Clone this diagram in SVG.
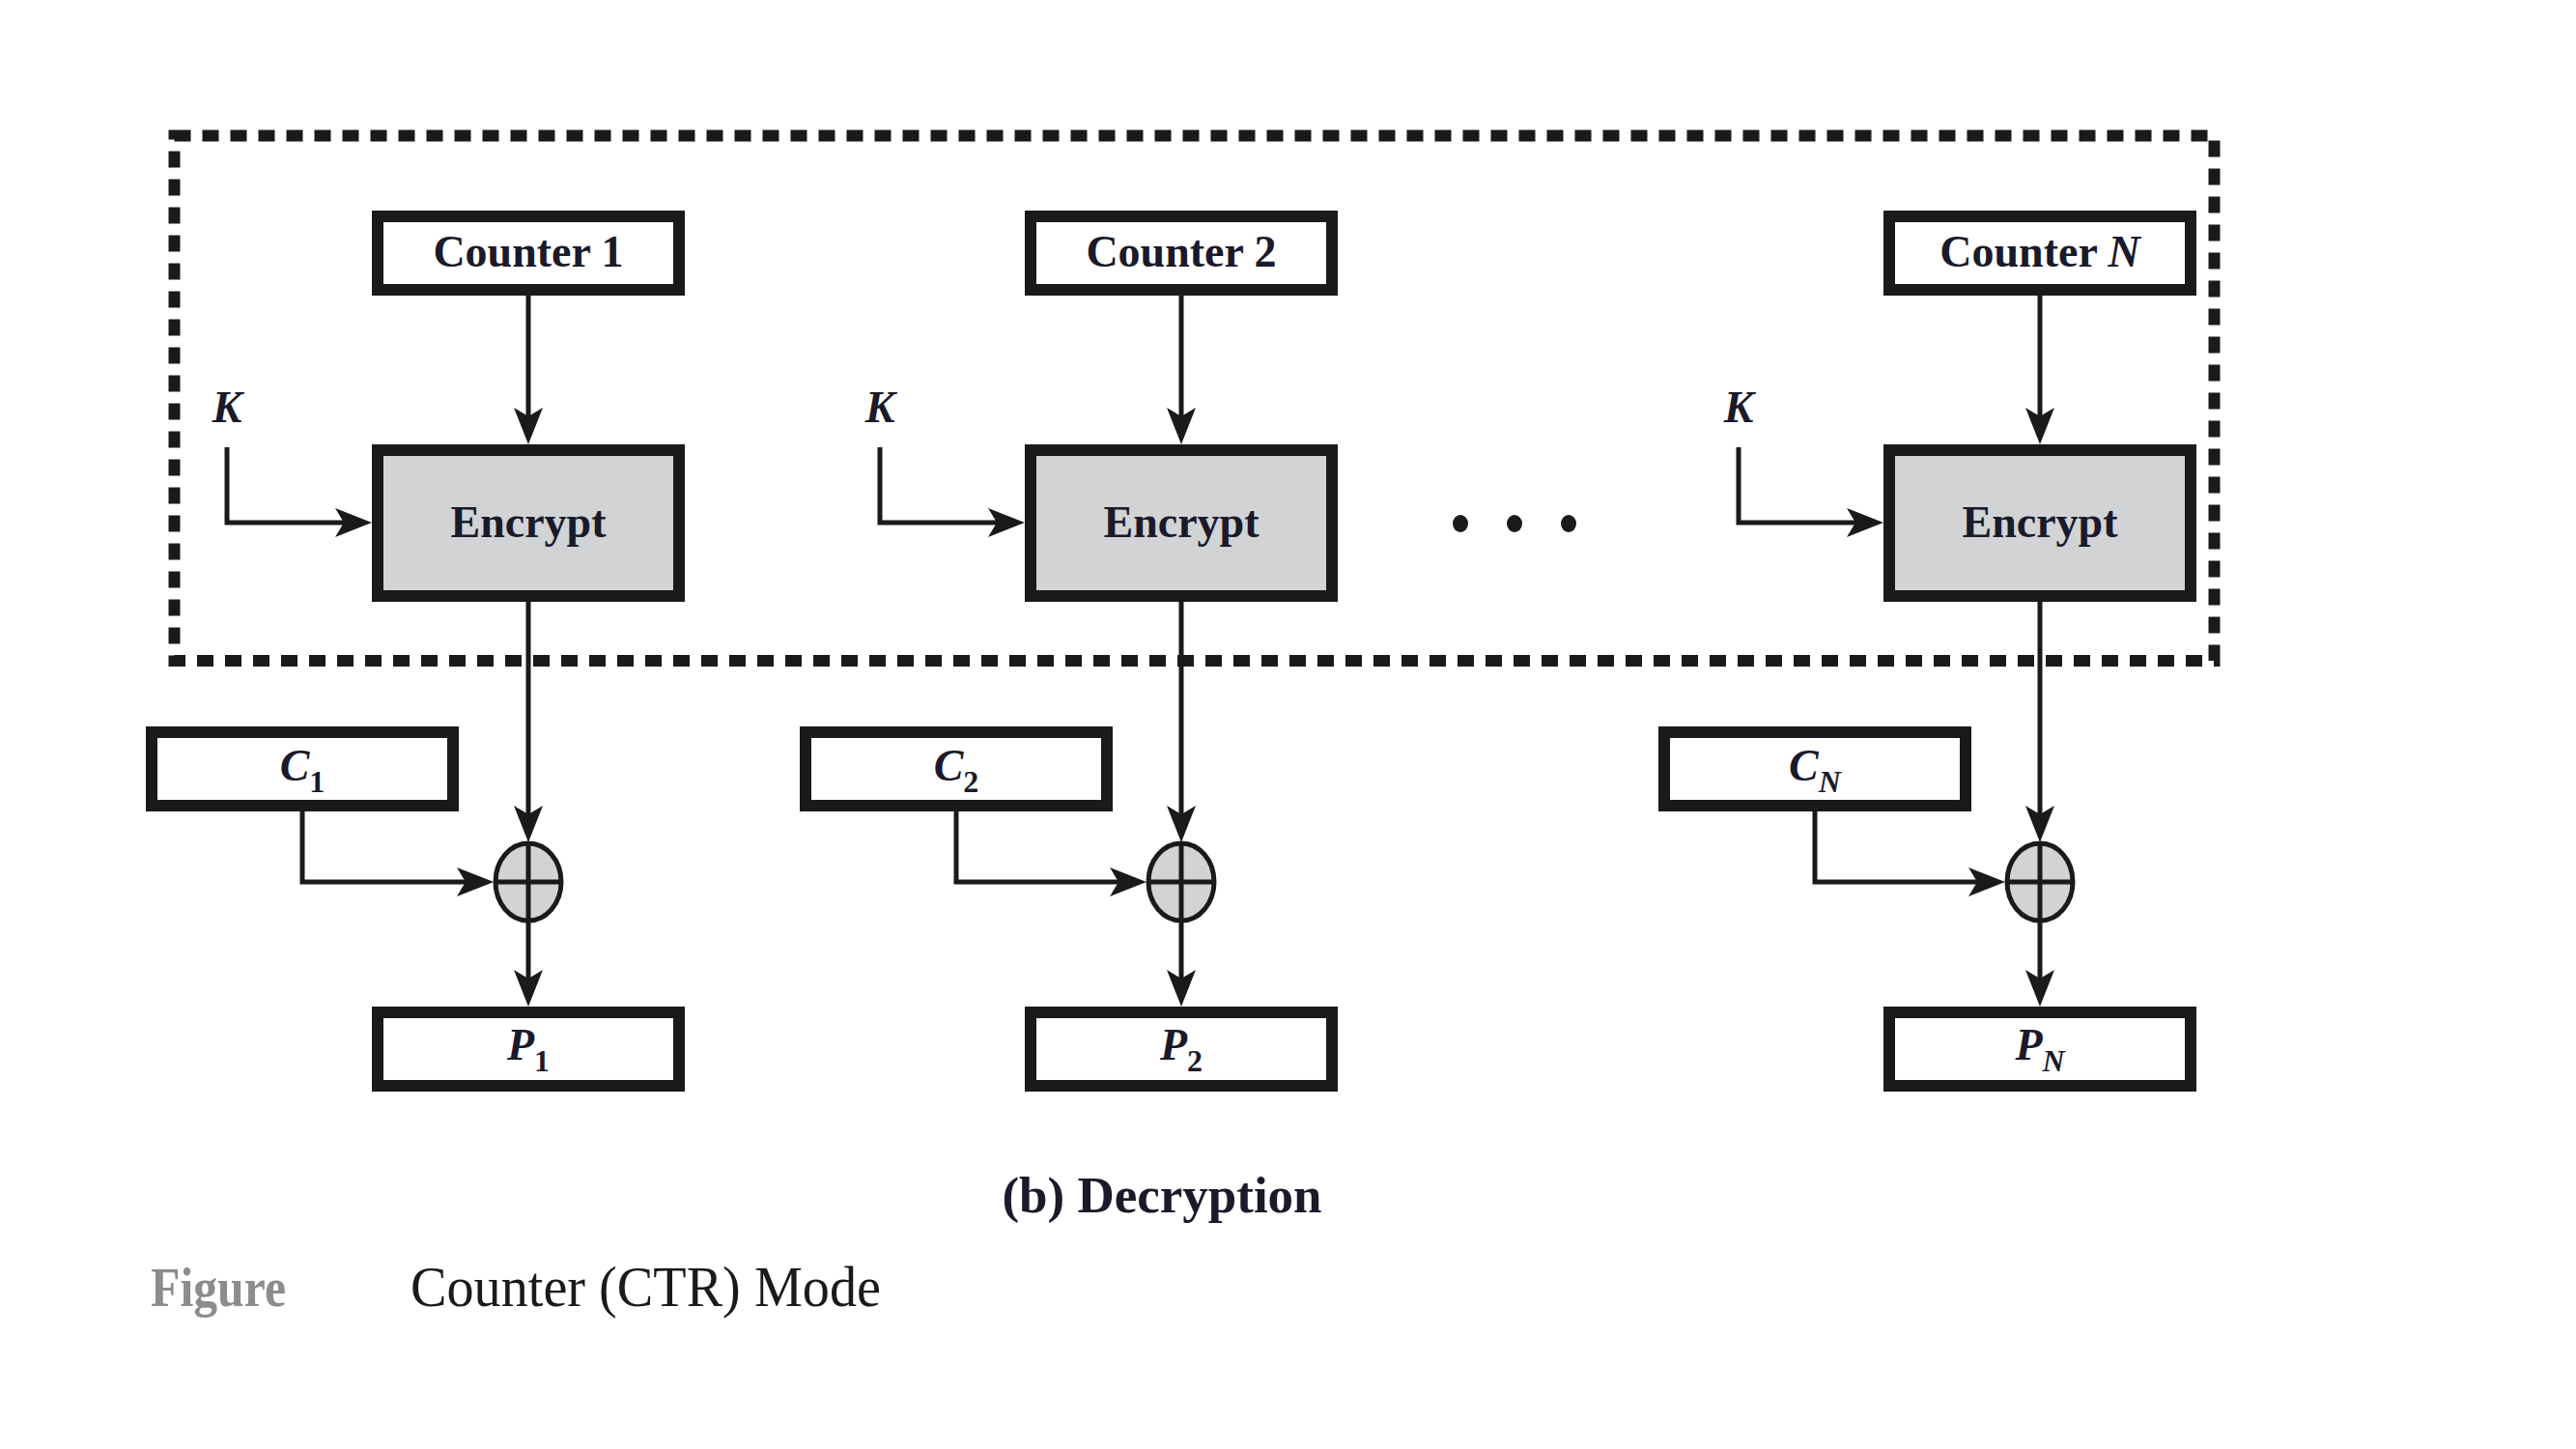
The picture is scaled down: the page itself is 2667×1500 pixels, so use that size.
<svg xmlns="http://www.w3.org/2000/svg" width="2667" height="1500" viewBox="0 0 2667 1500">
<defs>
<style>
.box{fill:#fff;stroke:#1a1a1a;stroke-width:12}
.enc{fill:#d1d3d4;stroke:#1a1a1a;stroke-width:12}
.xor{fill:#d1d3d4;stroke:#1a1a1a;stroke-width:5}
.ln{fill:none;stroke:#1a1a1a;stroke-width:5;marker-end:url(#arr)}
.cross{fill:none;stroke:#1a1a1a;stroke-width:5}
.lbl{font-family:"Liberation Serif","Times New Roman",serif;font-size:46px;font-weight:bold;fill:#1a1a2a;text-anchor:middle}
.it{font-style:italic}
.sub{font-style:normal;font-size:32px}
.subit{font-style:italic;font-size:32px}
.dash{fill:none;stroke:#1a1a1a;stroke-width:12;stroke-dasharray:17 12}
</style>
<marker id="arr" markerUnits="userSpaceOnUse" viewBox="-32 -17 42 34" refX="0" refY="0" markerWidth="42" markerHeight="34" orient="auto">
<path d="M8,0 L-30,-15 L-21,0 L-30,15 Z" fill="#1a1a1a"/>
</marker>
</defs>
<rect width="2667" height="1500" fill="#fff"/>
<rect class="dash" x="180.5" y="140.5" width="2112" height="543.5"/>
<g id="connectors">
<path class="ln" d="M547,306 V452"/>
<path class="ln" d="M1223,306 V452"/>
<path class="ln" d="M2112,306 V452"/>
<path class="ln" d="M235,463 V541 H377"/>
<path class="ln" d="M911,463 V541 H1053"/>
<path class="ln" d="M1800,463 V541 H1942"/>
<path class="ln" d="M547,623 V864"/>
<path class="ln" d="M1223,623 V864"/>
<path class="ln" d="M2112,623 V864"/>
<path class="ln" d="M313,840 V913 H503"/>
<path class="ln" d="M990,840 V913 H1179"/>
<path class="ln" d="M1879,840 V913 H2068"/>
<path class="ln" d="M547,955 V1034"/>
<path class="ln" d="M1223,955 V1034"/>
<path class="ln" d="M2112,955 V1034"/>
</g>
<g id="counter1"><rect class="box" x="391" y="224" width="312" height="76"/><text class="lbl" x="547" y="276">Counter 1</text></g>
<g id="counter2"><rect class="box" x="1067" y="224" width="312" height="76"/><text class="lbl" x="1223" y="276">Counter 2</text></g>
<g id="counterN"><rect class="box" x="1956" y="224" width="312" height="76"/><text class="lbl" x="2112" y="276">Counter <tspan class="it">N</tspan></text></g>
<g id="encrypt1"><rect class="enc" x="391" y="466" width="312" height="151"/><text class="lbl" x="547" y="556">Encrypt</text></g>
<g id="encrypt2"><rect class="enc" x="1067" y="466" width="312" height="151"/><text class="lbl" x="1223" y="556">Encrypt</text></g>
<g id="encryptN"><rect class="enc" x="1956" y="466" width="312" height="151"/><text class="lbl" x="2112" y="556">Encrypt</text></g>
<g id="k1"><text class="lbl it" x="235" y="437">K</text></g>
<g id="k2"><text class="lbl it" x="911" y="437">K</text></g>
<g id="kN"><text class="lbl it" x="1800" y="437">K</text></g>
<g id="dots"><ellipse cx="1512" cy="542" rx="8" ry="9" fill="#1a1a1a"/><ellipse cx="1568" cy="542" rx="8" ry="9" fill="#1a1a1a"/><ellipse cx="1624" cy="542" rx="8" ry="9" fill="#1a1a1a"/></g>
<g id="c1"><rect class="box" x="157" y="758" width="312" height="76"/><text class="lbl it" x="313" y="808">C<tspan class="sub" dy="12">1</tspan></text></g>
<g id="c2"><rect class="box" x="834" y="758" width="312" height="76"/><text class="lbl it" x="990" y="808">C<tspan class="sub" dy="12">2</tspan></text></g>
<g id="cN"><rect class="box" x="1723" y="758" width="312" height="76"/><text class="lbl it" x="1879" y="808">C<tspan class="subit" dy="12">N</tspan></text></g>
<g id="xor1"><ellipse class="xor" cx="547" cy="913" rx="34" ry="40"/><path class="cross" d="M513,913 H581 M547,873 V953"/></g>
<g id="xor2"><ellipse class="xor" cx="1223" cy="913" rx="34" ry="40"/><path class="cross" d="M1189,913 H1257 M1223,873 V953"/></g>
<g id="xorN"><ellipse class="xor" cx="2112" cy="913" rx="34" ry="40"/><path class="cross" d="M2078,913 H2146 M2112,873 V953"/></g>
<g id="p1"><rect class="box" x="391" y="1048" width="312" height="76"/><text class="lbl it" x="547" y="1097">P<tspan class="sub" dy="12">1</tspan></text></g>
<g id="p2"><rect class="box" x="1067" y="1048" width="312" height="76"/><text class="lbl it" x="1223" y="1097">P<tspan class="sub" dy="12">2</tspan></text></g>
<g id="pN"><rect class="box" x="1956" y="1048" width="312" height="76"/><text class="lbl it" x="2112" y="1097">P<tspan class="subit" dy="12">N</tspan></text></g>
<text x="1203" y="1255" style="font-family:'Liberation Serif','Times New Roman',serif;font-size:53px;font-weight:bold;fill:#1a1a2a;text-anchor:middle">(b) Decryption</text>
<text x="156" y="1352" textLength="140" lengthAdjust="spacingAndGlyphs" style="font-family:'Liberation Serif','Times New Roman',serif;font-size:58px;font-weight:bold;fill:#8c8c8c">Figure</text>
<text x="425" y="1352" textLength="487" lengthAdjust="spacingAndGlyphs" style="font-family:'Liberation Serif','Times New Roman',serif;font-size:60px;fill:#1a1a1a">Counter (CTR) Mode</text>
</svg>
